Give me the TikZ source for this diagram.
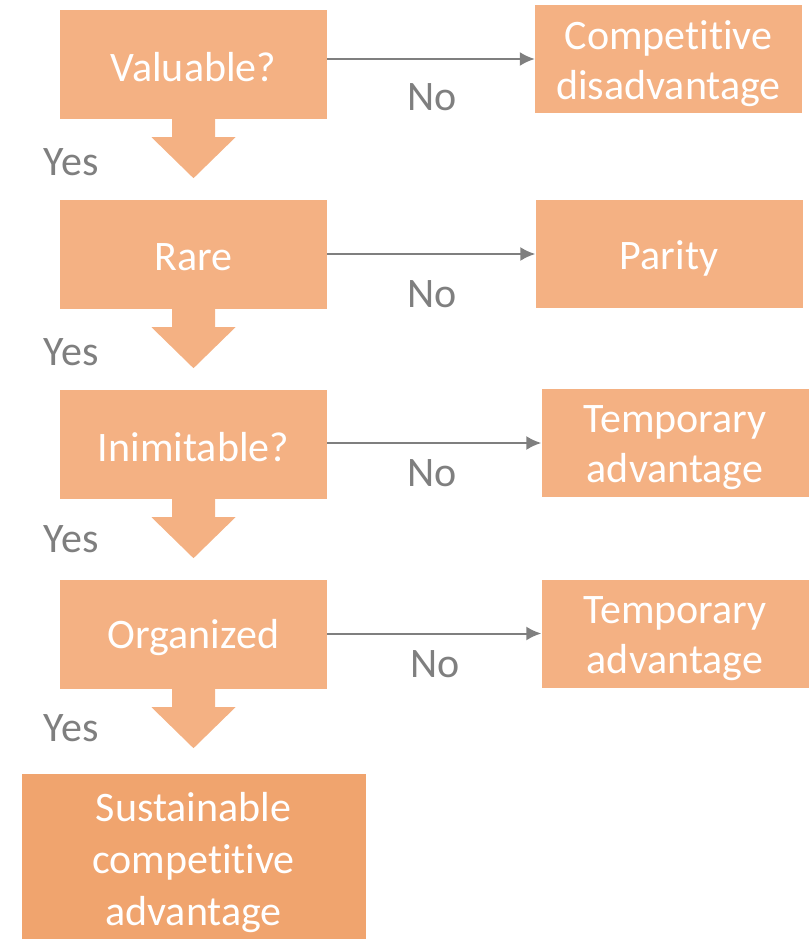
\documentclass[tikz,border=0pt]{standalone}
\usepackage{fontspec}
\setmainfont[Ligatures=CommonOff]{Carlito}
\usetikzlibrary{arrows.meta}
\definecolor{boxfill}{HTML}{F4B183}
\definecolor{endfill}{HTML}{F0A46E}
\definecolor{labelgrey}{HTML}{7F7F7F}
\begin{document}
\begin{tikzpicture}[x=1pt,y=-1pt,
  qbox/.style={fill=boxfill,minimum width=267pt,minimum height=109pt,inner sep=0pt},
  outbox/.style={fill=boxfill,minimum width=267pt,minimum height=108pt,inner sep=0pt},
  boxtext/.style={text=white,font=\fontsize{42}{50}\selectfont,align=center,inner sep=0pt},
  lbl/.style={text=labelgrey,font=\fontsize{42}{48}\selectfont,inner sep=0pt},
  noarrow/.style={draw=labelgrey,line width=2pt,-{Latex[length=15pt,width=14pt]}}]
\useasboundingbox (0,0) rectangle (810,939);

% question boxes
\node[qbox] (q1) at (193.5,64.5) {};
\node[qbox] (q2) at (193.5,254.5) {};
\node[qbox] (q3) at (193.5,444.5) {};
\node[qbox] (q4) at (193.5,634.5) {};
\node[boxtext] (q1t) at ([yshift=-3pt]q1.center) {Valuable?};
\node[boxtext] (q2t) at ([yshift=-3pt]q2.center) {Rare};
\node[boxtext] (q3t) at ([yshift=-3pt]q3.center) {Inimitable?};
\node[boxtext] (q4t) at ([yshift=-3pt]q4.center) {Organized};

% outcome boxes
\node[outbox] (r1) at (668.5,59) {};
\node[outbox] (r2) at (669,254) {};
\node[outbox] (r3) at (675,443) {};
\node[outbox] (r4) at (675,633.5) {};
\node[boxtext] (r1t) at ([yshift=-5pt]r1.center) {Competitive\\disadvantage};
\node[boxtext] (r2t) at ([yshift=-4pt]r2.center) {Parity};
\node[boxtext] (r3t) at ([yshift=-5pt]r3.center) {Temporary\\advantage};
\node[boxtext] (r4t) at ([yshift=-5pt]r4.center) {Temporary\\advantage};

% final box
\node[fill=endfill,minimum width=344pt,minimum height=165pt,inner sep=0pt] (sca) at (193.5,856.5) {};
\node[boxtext,font=\fontsize{42}{52}\selectfont] (scat) at ([yshift=-6pt]sca.center)
  {Sustainable\\competitive\\advantage};

% block arrows (Yes path)
\foreach \q in {q1,q2,q3,q4}{
  \fill[boxfill] (\q.south) ++(-21.5,0) -- ++(0,18) -- ++(-20.5,0) -- ++(42,41)
    -- ++(42,-41) -- ++(-20.5,0) -- ++(0,-18) -- cycle;
}

% No connectors
\draw[noarrow] (q1.east |- r1.west) -- (r1.west);
\draw[noarrow] (q2.east |- r2.west) -- (r2.west);
\draw[noarrow] (q3.east |- r3.west) -- (r3.west);
\draw[noarrow] (q4.east |- r4.west) -- (r4.west);

% labels
\node[lbl] (n1) at (432,97) {No};
\node[lbl] (n2) at (432,294) {No};
\node[lbl] (n3) at (432,473) {No};
\node[lbl] (n4) at (435,664) {No};
\node[lbl] (y1) at (71,162) {Yes};
\node[lbl] (y2) at (71,352) {Yes};
\node[lbl] (y3) at (71,539) {Yes};
\node[lbl] (y4) at (71,728) {Yes};
\end{tikzpicture}
\end{document}
